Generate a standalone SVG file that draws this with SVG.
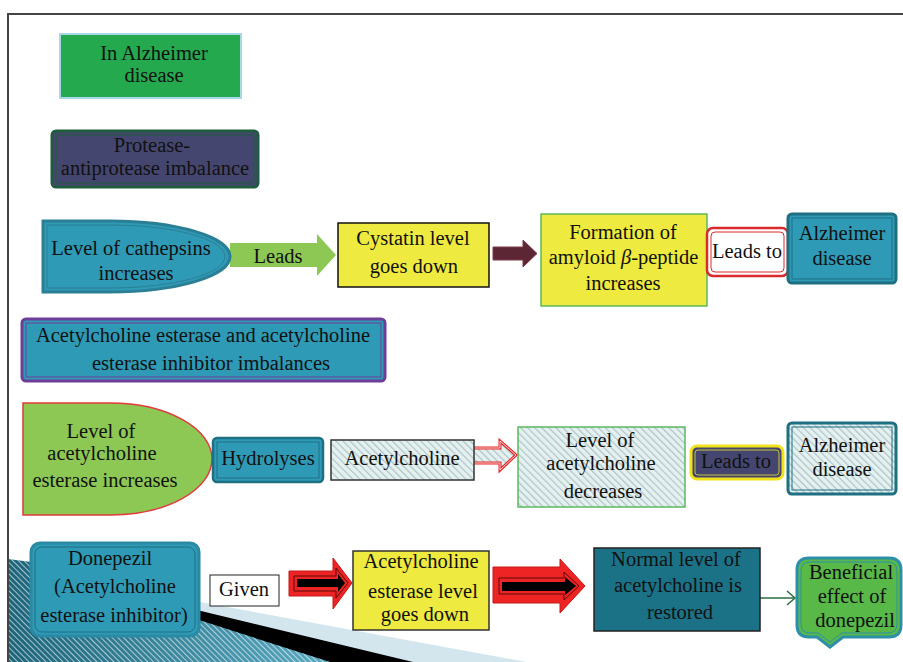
<svg xmlns="http://www.w3.org/2000/svg" width="903" height="662" viewBox="0 0 903 662">
<style>
.t{font-family:"Liberation Serif","Times New Roman",serif;font-size:20.5px;fill:#111;text-anchor:middle}
.in{fill:none;stroke-width:1}
</style>
<defs>
<pattern id="hatch" patternUnits="userSpaceOnUse" width="5" height="5" patternTransform="rotate(-45)">
<rect width="5" height="5" fill="#e4f1f1"/>
<line x1="0.6" y1="0" x2="0.6" y2="5" stroke="#b2c3c5" stroke-width="1.2"/>
</pattern>
<pattern id="stripes" patternUnits="userSpaceOnUse" width="4" height="4" patternTransform="rotate(-45)">
<line x1="0.5" y1="0" x2="0.5" y2="4" stroke="#ffffff" stroke-opacity="0.6" stroke-width="1"/>
</pattern>
<linearGradient id="tealg" x1="0" y1="0" x2="1" y2="0">
<stop offset="0" stop-color="#1c6479"/>
<stop offset="1" stop-color="#5aaac2"/>
</linearGradient>
</defs>
<rect width="903" height="662" fill="#ffffff"/>
<g id="decoration">
<polygon points="31,571 527,662 31,662" fill="#d3e6ee"/>
<polygon points="31,570 413,662 31,662" fill="#000000"/>
<polygon points="8,559 31,562 199,620 330,662 8,662" fill="url(#tealg)"/>
<polygon points="8,559 31,562 199,620 330,662 8,662" fill="url(#stripes)"/>
</g>
<g id="frame">
<polyline points="903,14 8,14 8,662" fill="none" stroke="#444" stroke-width="2"/>
</g>
<g id="connectors">
<g id="arrow-leads">
<polygon points="230,243 317,243 317,234 336,255 317,276 317,267 230,267" fill="#8dc855"/>
<text class="t" x="278" y="263">Leads</text>
</g>
<polygon id="arrow-maroon" points="493,247 523,247 523,240 537,253.5 523,267 523,260 493,260" fill="#5c2634" stroke="#7d3b4a" stroke-width="1"/>
<g id="arrow-outline">
<polygon points="471,448 500,448 500,441 516,455 500,470 500,463 471,463" fill="url(#hatch)" stroke="#e52626" stroke-width="3"/>
<polygon points="471,448 500,448 500,441 516,455 500,470 500,463 471,463" fill="none" stroke="#ffffff" stroke-width="0.8"/>
</g>
<g id="arrow-red1">
<polygon points="289,571 333,571 333,558 352,583 333,609 333,596 289,596" fill="#ee2424" stroke="#c41818" stroke-width="1"/>
<polygon points="294,576 336,576 336,568 348,583 336,598 336,591 294,591" fill="none" stroke="#5a0a0a" stroke-width="1"/>
<polygon points="297,579 338,579 338,574 345,583 338,592 338,587 297,587" fill="#000"/>
</g>
<g id="arrow-red2">
<polygon points="493,567 560,567 560,559 585,586 560,613 560,603 493,603" fill="#ee2424" stroke="#c41818" stroke-width="1"/>
<polygon points="499,578 564,578 564,572 579,586 564,600 564,594 499,594" fill="none" stroke="#5a0a0a" stroke-width="1"/>
<polygon points="502,582 565,582 565,577 576,586 565,595 565,591 502,591" fill="#000"/>
</g>
<g id="arrow-green-line" fill="none" stroke="#2a6e42" stroke-width="1.5">
<line x1="760" y1="598" x2="795" y2="598"/>
<polyline points="787,591 795,598 787,605"/>
</g>
</g>
<g id="n-in-alzheimer">
<rect x="60" y="34" width="181" height="64" fill="#25a94f" stroke="#a8d8e6" stroke-width="2"/>
<text class="t" x="154" y="60">In Alzheimer</text>
<text class="t" x="154" y="82">disease</text>
</g>
<g id="n-protease">
<rect x="52" y="131" width="206" height="56" rx="4" fill="#45466f" stroke="#1f5c3e" stroke-width="3"/>
<rect x="56" y="135" width="198" height="48" rx="2" class="in" stroke="#1f5c3e"/>
<text class="t" x="152" y="152">Protease-</text>
<text class="t" x="155" y="175">antiprotease imbalance</text>
</g>
<g id="n-cathepsins">
<path d="M43,221 H110 A120,35.5 0 0 1 230,256.5 A120,35.5 0 0 1 110,292 H43 Z" fill="#2e9ab6" stroke="#2b7f95" stroke-width="3"/>
<path d="M47,225 H110 A115,31.5 0 0 1 225,256.5 A115,31.5 0 0 1 110,288 H47 Z" class="in" stroke="#2b7f95"/>
<text class="t" x="131" y="255">Level of cathepsins</text>
<text class="t" x="136" y="280">increases</text>
</g>
<g id="n-cystatin">
<rect x="338" y="223" width="151" height="64" fill="#eeea3f" stroke="#111" stroke-width="1.5"/>
<text class="t" x="413" y="245">Cystatin level</text>
<text class="t" x="414" y="273">goes down</text>
</g>
<g id="n-formation">
<rect x="541" y="214" width="166" height="92" fill="#eeea3f" stroke="#5cb85c" stroke-width="1.5"/>
<text class="t" x="623" y="239">Formation of</text>
<text class="t" x="623.5" y="264">amyloid <tspan font-style="italic">β</tspan>-peptide</text>
<text class="t" x="623" y="290">increases</text>
</g>
<g id="n-leads-to-1">
<rect x="707" y="228" width="81" height="48" rx="6" fill="#fff" stroke="#d92b2b" stroke-width="2.5"/>
<rect x="711" y="232" width="73" height="40" rx="4" class="in" stroke="#d92b2b"/>
<text class="t" x="747" y="258">Leads to</text>
</g>
<g id="n-alzheimer-1">
<rect x="788" y="214" width="108" height="69" rx="4" fill="#2e9ab6" stroke="#1f6f82" stroke-width="3"/>
<rect x="792" y="218" width="100" height="61" class="in" stroke="#1f6f82"/>
<text class="t" x="842" y="240">Alzheimer</text>
<text class="t" x="842" y="265">disease</text>
</g>
<g id="n-ache-imbalance">
<rect x="22" y="319" width="363" height="62" rx="4" fill="#2e9ab6" stroke="#6c3e99" stroke-width="3"/>
<rect x="26" y="323" width="355" height="54" class="in" stroke="#6c3e99"/>
<text class="t" x="203" y="342">Acetylcholine esterase and acetylcholine</text>
<text class="t" x="211" y="370">esterase inhibitor imbalances</text>
</g>
<g id="n-ache-increase">
<path d="M23,403 H110 A102,56 0 0 1 212,459 A102,56 0 0 1 110,515 H23 Z" fill="#8dc855" stroke="#e03a3a" stroke-width="1.5"/>
<text class="t" x="101" y="438">Level of</text>
<text class="t" x="102" y="460">acetylcholine</text>
<text class="t" x="105" y="487">esterase increases</text>
</g>
<g id="n-hydrolyses">
<rect x="213" y="438" width="110" height="44" rx="4" fill="#2e9ab6" stroke="#1f6f82" stroke-width="2.5"/>
<rect x="217" y="442" width="102" height="36" class="in" stroke="#1f6f82"/>
<text class="t" x="268" y="465">Hydrolyses</text>
</g>
<g id="n-acetylcholine">
<rect x="331" y="440" width="143" height="40" fill="url(#hatch)" stroke="#333" stroke-width="1.5"/>
<text class="t" x="402" y="465">Acetylcholine</text>
</g>
<g id="n-ach-decreases">
<rect x="518" y="427" width="167" height="80" fill="url(#hatch)" stroke="#5cb85c" stroke-width="1.5"/>
<text class="t" x="600" y="447">Level of</text>
<text class="t" x="601" y="470">acetylcholine</text>
<text class="t" x="603" y="498">decreases</text>
</g>
<g id="n-leads-to-2">
<rect x="691" y="446" width="92" height="33" rx="6" fill="#45466f" stroke="#f0e21a" stroke-width="3"/>
<rect x="695" y="450" width="84" height="25" rx="3" class="in" stroke="#c9c040"/>
<text class="t" x="736" y="468">Leads to</text>
</g>
<g id="n-alzheimer-2">
<rect x="788" y="423" width="108" height="71" rx="4" fill="url(#hatch)" stroke="#1f6f82" stroke-width="3"/>
<rect x="792" y="427" width="100" height="63" class="in" stroke="#1f6f82"/>
<text class="t" x="842" y="452">Alzheimer</text>
<text class="t" x="842" y="476">disease</text>
</g>
<g id="n-donepezil">
<rect x="31" y="543" width="168" height="93" rx="9" fill="#2e9ab6" stroke="#2a8aa3" stroke-width="3"/>
<rect x="35" y="547" width="160" height="85" rx="7" class="in" stroke="#1f6f82"/>
<text class="t" x="110" y="565">Donepezil</text>
<text class="t" x="115" y="593">(Acetylcholine</text>
<text class="t" x="114" y="622">esterase inhibitor)</text>
</g>
<g id="n-given">
<rect x="210" y="575" width="69" height="31" fill="#fff" stroke="#222" stroke-width="1"/>
<text class="t" x="244" y="596">Given</text>
</g>
<g id="n-ache-down">
<rect x="353" y="551" width="136" height="79" fill="#eeea3f" stroke="#333" stroke-width="1.5"/>
<text class="t" x="421" y="568">Acetylcholine</text>
<text class="t" x="423" y="598">esterase level</text>
<text class="t" x="425" y="621">goes down</text>
</g>
<g id="n-normal">
<rect x="594" y="548" width="166" height="83" fill="#1b7287" stroke="#222" stroke-width="1.5"/>
<text class="t" x="676" y="566">Normal level of</text>
<text class="t" x="678" y="592">acetylcholine is</text>
<text class="t" x="680" y="619">restored</text>
</g>
<g id="n-beneficial">
<path d="M809,558 H889 Q901,558 901,570 V625 Q901,637 889,637 H843 L830,647 L817,637 H809 Q797,637 797,625 V570 Q797,558 809,558 Z" fill="#58b848" stroke="#2e8fa8" stroke-width="3"/>
<path d="M810,562 H888 Q897,562 897,571 V624 Q897,633 888,633 H842 L830,642 L818,633 H810 Q801,633 801,624 V571 Q801,562 810,562 Z" class="in" stroke="#2e8fa8"/>
<text class="t" x="851" y="579">Beneficial</text>
<text class="t" x="852" y="603">effect of</text>
<text class="t" x="855" y="627">donepezil</text>
</g>
</svg>
